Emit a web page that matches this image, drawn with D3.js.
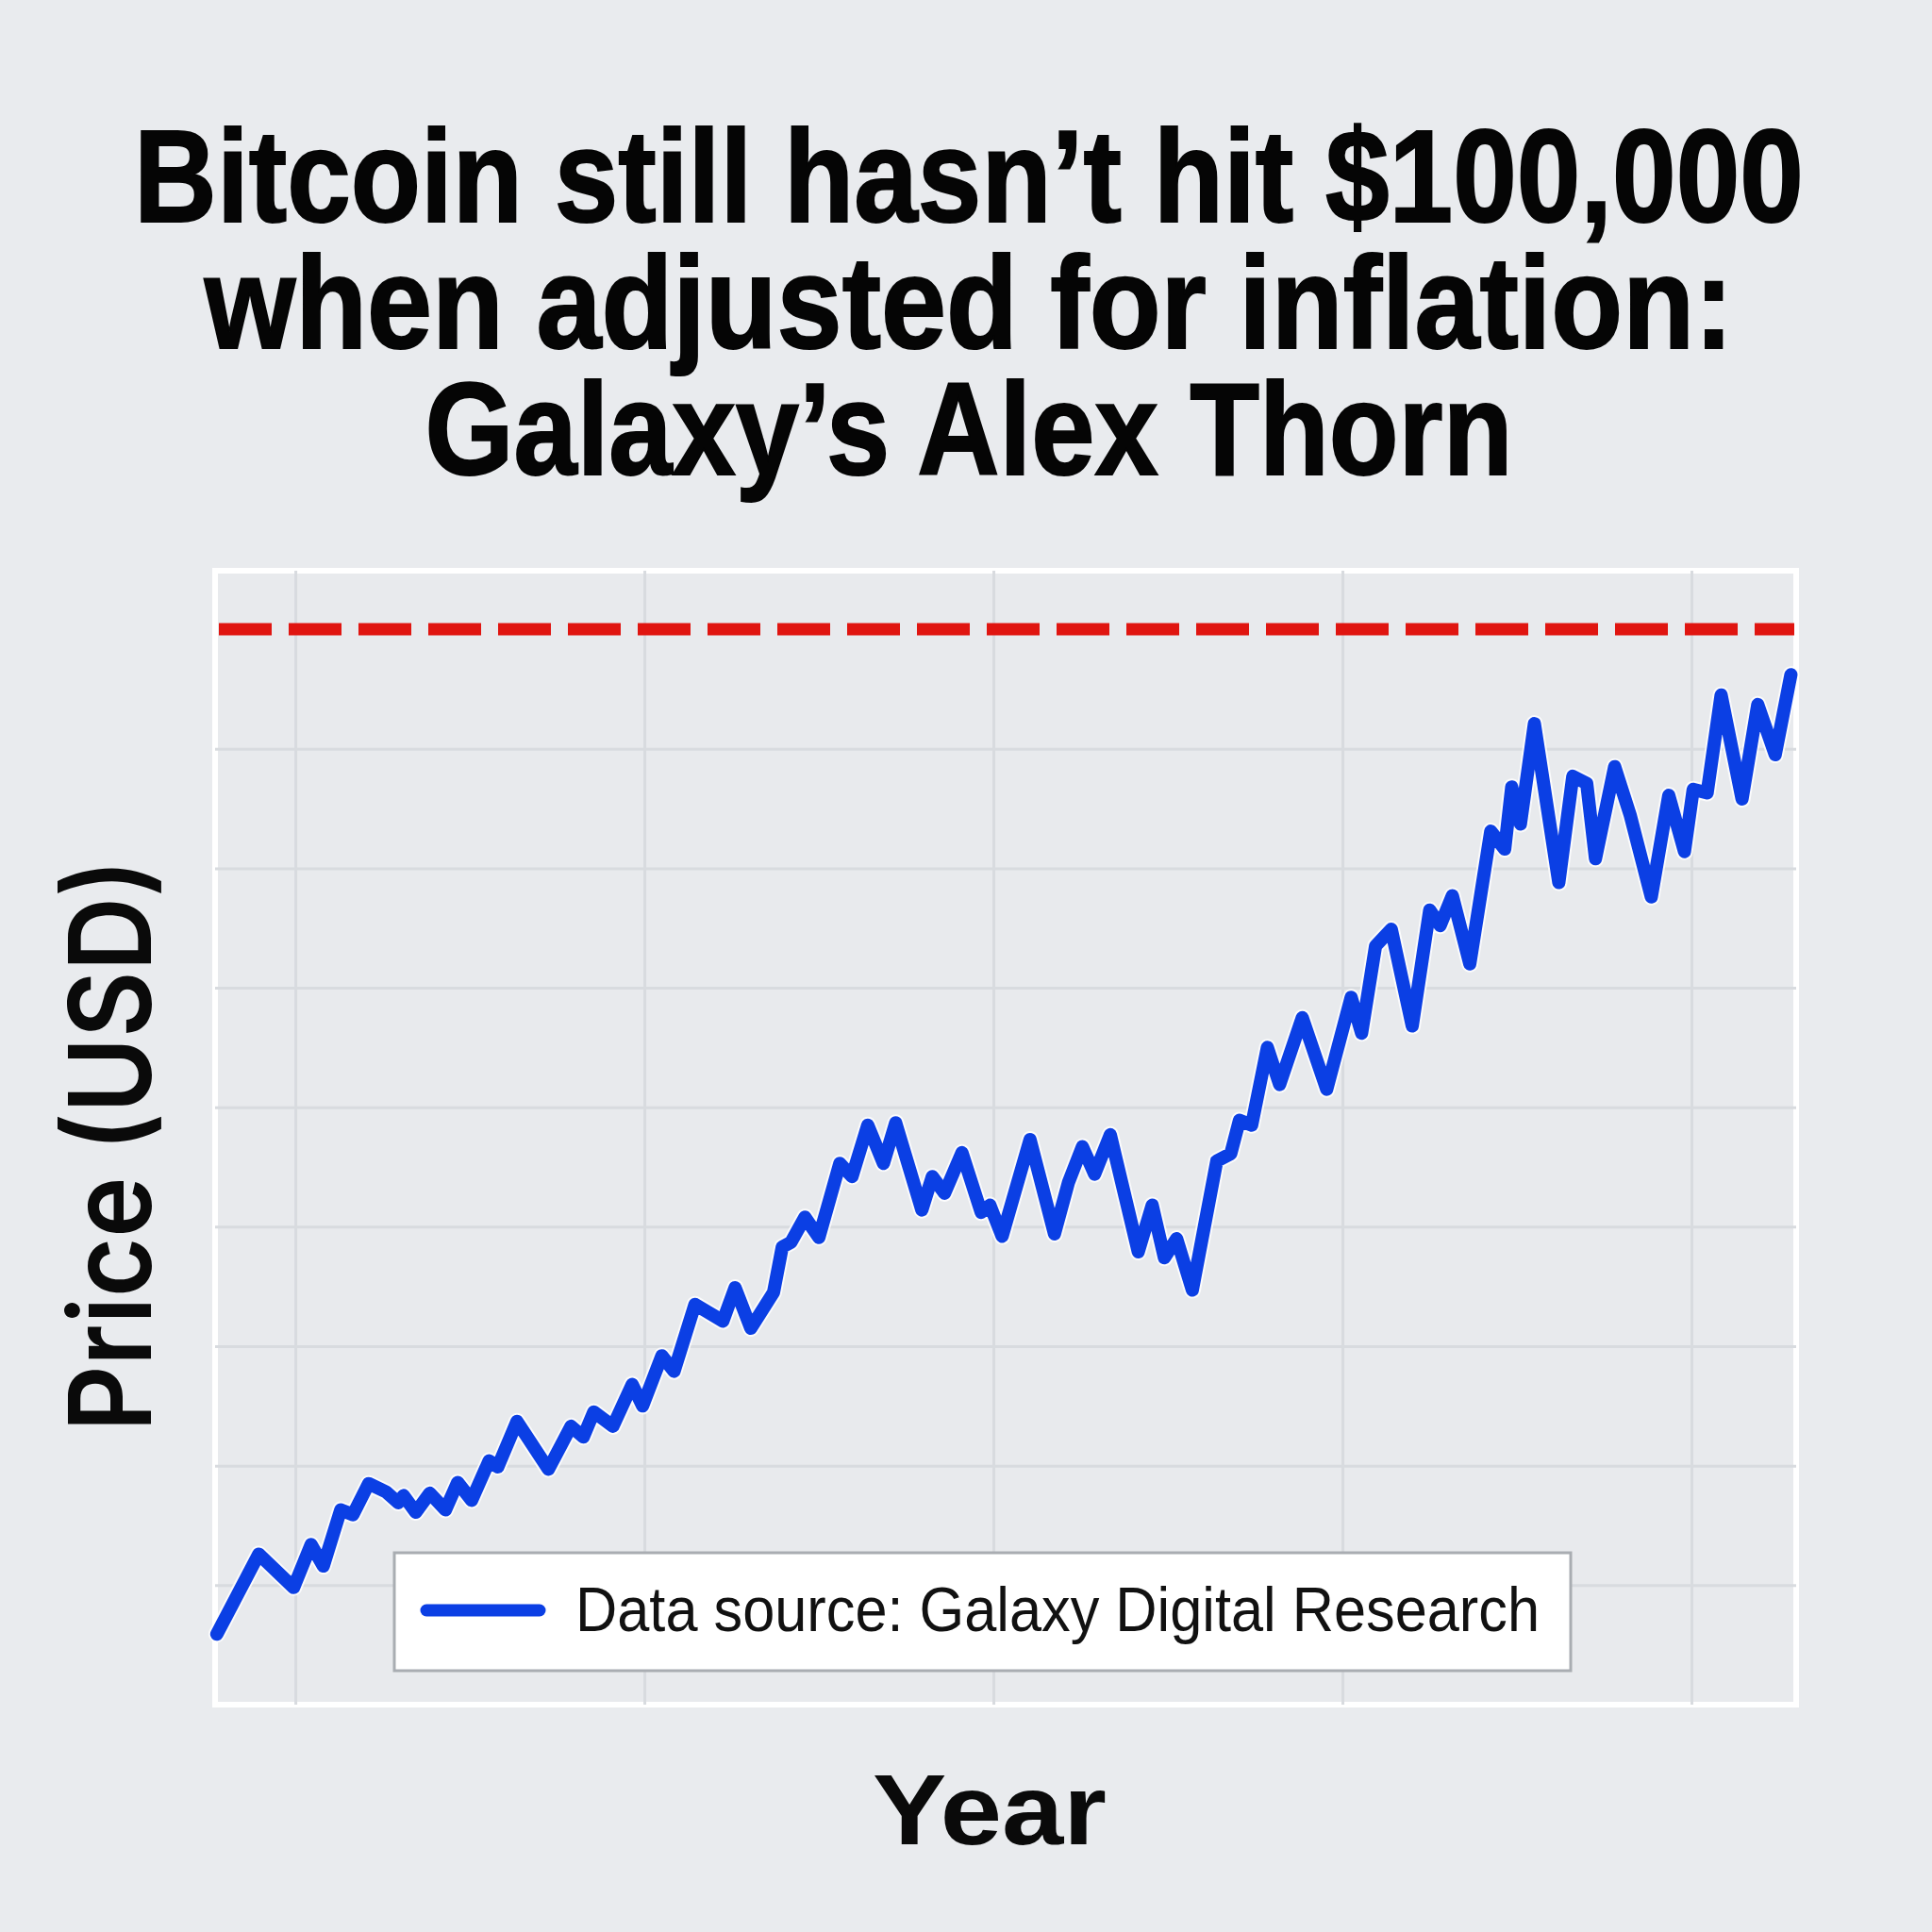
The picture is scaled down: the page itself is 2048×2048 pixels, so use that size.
<!DOCTYPE html>
<html>
<head>
<meta charset="utf-8">
<script src="https://cdn.jsdelivr.net/npm/d3@7"></script>
<style>
  html, body { margin: 0; padding: 0; background: #e9ebee; }
  svg { display: block; }
</style>
</head>
<body>
<svg id="chart" width="2048" height="2048"></svg>
<script>
// ---- data ----
const titleLines = ["Bitcoin still hasn\u2019t hit $100,000", "when adjusted for inflation:", "Galaxy\u2019s Alex Thorn"];
const yLabel = "Price (USD)";
const xLabel = "Year";
const legendLabel = "Data source: Galaxy Digital Research";
const thresholdPrice = 100000;
const gridYears = [2014, 2016, 2018, 2020, 2022];
const gridPrices = [20000, 30000, 40000, 50000, 60000, 70000, 80000, 90000];

const years = [2013.55, 2013.79, 2013.99, 2014.09, 2014.16, 2014.26, 2014.33, 2014.42, 2014.52, 2014.59,
  2014.62, 2014.69, 2014.77, 2014.86, 2014.93, 2015.01, 2015.11, 2015.16, 2015.27, 2015.45,
  2015.58, 2015.65, 2015.71, 2015.82, 2015.93, 2015.99, 2016.10, 2016.17, 2016.29, 2016.45,
  2016.52, 2016.61, 2016.74, 2016.79, 2016.84, 2016.92, 2017.00, 2017.12, 2017.19, 2017.28,
  2017.37, 2017.44, 2017.59, 2017.65, 2017.72, 2017.82, 2017.93, 2017.98, 2018.05, 2018.21,
  2018.35, 2018.43, 2018.51, 2018.58, 2018.67, 2018.83, 2018.91, 2018.98, 2019.05, 2019.14,
  2019.28, 2019.36, 2019.41, 2019.48, 2019.57, 2019.64, 2019.77, 2019.91, 2020.05, 2020.11,
  2020.19, 2020.28, 2020.40, 2020.50, 2020.56, 2020.63, 2020.73, 2020.85, 2020.93, 2020.97,
  2021.02, 2021.10, 2021.24, 2021.32, 2021.40, 2021.45, 2021.56, 2021.65, 2021.77, 2021.87,
  2021.96, 2022.01, 2022.09, 2022.17, 2022.29, 2022.38, 2022.48, 2022.57];
const prices = [15900, 22600, 19800, 23400, 21600, 26300, 25900, 28500, 27800, 26900,
  27500, 26100, 27700, 26300, 28600, 27100, 30400, 29900, 33700, 29700,
  33300, 32400, 34500, 33300, 36800, 35000, 39200, 37900, 43500, 42100,
  44900, 41500, 44500, 48300, 48700, 50800, 49100, 55300, 54200, 58500,
  55300, 58700, 51400, 54200, 52800, 56200, 51200, 51800, 49200, 57300,
  49400, 53700, 56700, 54400, 57700, 47900, 51800, 47400, 49000, 44700,
  55500, 56100, 58900, 58500, 65000, 61900, 67500, 61500, 69200, 66200,
  73500, 74900, 66800, 76500, 75200, 77700, 72000, 83100, 81600, 86800,
  83700, 92100, 78800, 87700, 87100, 80800, 88500, 84400, 77600, 86100,
  81400, 86600, 86300, 94500, 85800, 93700, 89500, 96200];

// ---- layout ----
const W = 2048, H = 2048;
const plot = { left: 228, right: 1904, top: 605, bottom: 1807 };
const svg = d3.select("#chart");

svg.append("rect").attr("width", W).attr("height", H).attr("fill", "#e9ebee");

// title: one text per line, horizontally condensed to the reference widths
const titleBaselines = [235, 369, 503];
const titleWidths = [1770, 1621, 1153];
titleLines.forEach((t, i) => {
  const g = svg.append("g");
  const txt = g.append("text")
    .attr("x", 0).attr("y", 0)
    .attr("text-anchor", "middle")
    .attr("font-family", "'Liberation Sans', Arial, sans-serif")
    .attr("font-weight", 700)
    .attr("font-size", 140)
    .attr("fill", "#050505")
    .attr("stroke", "#050505").attr("stroke-width", 2)
    .text(t);
  const natural = txt.node().getComputedTextLength() || titleWidths[i];
  const sx = titleWidths[i] / natural;
  g.attr("transform", `translate(1027,${titleBaselines[i]}) scale(${sx},1)`);
});

const x = d3.scaleLinear().domain([2013.54, 2022.6]).range([plot.left, plot.right]);
const y = d3.scaleLinear().domain([10000, 104900]).range([plot.bottom, plot.top]);

// frame
svg.append("rect")
  .attr("x", plot.left).attr("y", plot.top)
  .attr("width", plot.right - plot.left).attr("height", plot.bottom - plot.top)
  .attr("fill", "#e8eaed")
  .attr("stroke", "#ffffff").attr("stroke-width", 6);

// grid via axes
const gx = svg.append("g")
  .attr("transform", `translate(0,${plot.bottom})`)
  .call(d3.axisBottom(x).tickValues(gridYears).tickSize(-(plot.bottom - plot.top)).tickFormat(""));
const gy = svg.append("g")
  .attr("transform", `translate(${plot.left},0)`)
  .call(d3.axisLeft(y).tickValues(gridPrices).tickSize(-(plot.right - plot.left)).tickFormat(""));
[gx, gy].forEach(g => {
  g.select(".domain").remove();
  g.selectAll(".tick line").attr("stroke", "#d8dbdf").attr("stroke-width", 3);
});

// threshold line
svg.append("line")
  .attr("x1", plot.left + 4).attr("x2", plot.right - 2)
  .attr("y1", y(thresholdPrice)).attr("y2", y(thresholdPrice))
  .attr("stroke", "#e01510").attr("stroke-width", 13)
  .attr("stroke-dasharray", "56,18");

// price line
const data = years.map((yr, i) => ({ yr, p: prices[i] }));
const line = d3.line().x(d => x(d.yr)).y(d => y(d.p));
svg.append("path").datum(data)
  .attr("d", line).attr("fill", "none")
  .attr("stroke", "#ffffff").attr("stroke-opacity", 0.8).attr("stroke-width", 18)
  .attr("stroke-linejoin", "round").attr("stroke-linecap", "round");
svg.append("path").datum(data)
  .attr("d", line).attr("fill", "none")
  .attr("stroke", "#0b3fe4").attr("stroke-width", 14)
  .attr("stroke-linejoin", "round").attr("stroke-linecap", "round");

// legend
const lg = svg.append("g");
lg.append("rect")
  .attr("x", 418).attr("y", 1646).attr("width", 1247).attr("height", 125)
  .attr("fill", "#ffffff").attr("stroke", "#a9adb2").attr("stroke-width", 3);
lg.append("line")
  .attr("x1", 452).attr("x2", 572).attr("y1", 1707).attr("y2", 1707)
  .attr("stroke", "#0b3fe4").attr("stroke-width", 13).attr("stroke-linecap", "round");
lg.append("text")
  .attr("x", 610).attr("y", 1729)
  .attr("font-family", "'Liberation Sans', Arial, sans-serif")
  .attr("font-size", 66)
  .attr("textLength", 1022)
  .attr("lengthAdjust", "spacingAndGlyphs")
  .attr("fill", "#111")
  .text(legendLabel);

// axis labels
svg.append("text")
  .attr("transform", `translate(160,1214) rotate(-90)`)
  .attr("text-anchor", "middle")
  .attr("font-family", "Inter, 'Noto Sans', sans-serif")
  .attr("font-weight", 600)
  .attr("font-size", 121)
  .attr("textLength", 607)
  .attr("lengthAdjust", "spacingAndGlyphs")
  .attr("fill", "#0a0a0a")
  .text(yLabel);

svg.append("text")
  .attr("x", 1049).attr("y", 1955)
  .attr("text-anchor", "middle")
  .attr("font-family", "'Liberation Sans', Arial, sans-serif")
  .attr("font-weight", 700)
  .attr("font-size", 106)
  .attr("textLength", 248)
  .attr("lengthAdjust", "spacingAndGlyphs")
  .attr("fill", "#0a0a0a")
  .text(xLabel);
</script>
</body>
</html>
